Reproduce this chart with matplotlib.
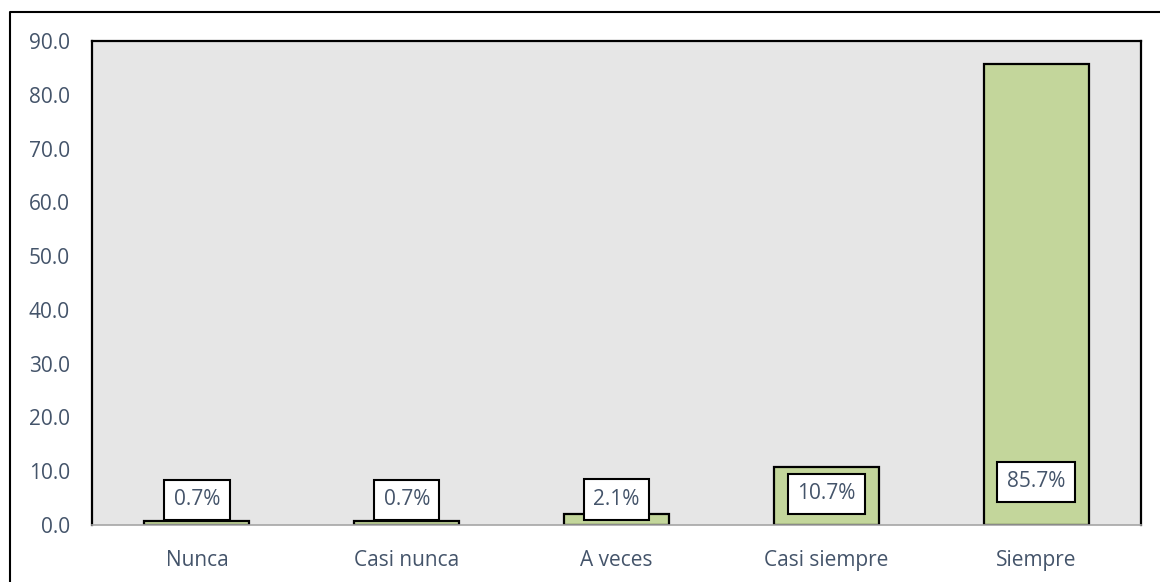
import numpy as np
import matplotlib.pyplot as plt
from matplotlib.lines import Line2D

# Response frequencies (%)
categories = ['Nunca', 'Casi nunca', 'A veces', 'Casi siempre', 'Siempre']
percentages = [0.7, 0.7, 2.1, 10.7, 85.7]
y_ticks = [0, 10, 20, 30, 40, 50, 60, 70, 80, 90]

# where the value boxes sit (data units, near the bar base)
label_y = [4.65, 4.65, 4.75, 5.8, 8.0]

TEXT = '#44546A'
BAR = '#C3D69B'
BG = '#E6E6E6'

plt.rcParams['font.family'] = ['Open Sans', 'DejaVu Sans']

fig = plt.figure(figsize=(11.6, 5.82), dpi=100)
ax = fig.add_axes([92 / 1160, 1 - 525 / 582, (1141 - 92) / 1160, (525 - 41) / 582])
ax.set_facecolor(BG)

x = np.arange(len(categories))
ax.bar(x, percentages, width=0.5, color=BAR, edgecolor='black', linewidth=1.6, zorder=2)

for xi, v, ly in zip(x, percentages, label_y):
    ax.text(xi, ly, f'{v:.1f}%', ha='center', va='center', fontsize=15, color=TEXT,
            bbox=dict(boxstyle='square,pad=0.46', fc='white', ec='black', lw=1.5), zorder=3)

ax.set_xlim(-0.5, len(categories) - 0.5)
ax.set_ylim(0, 90)
ax.set_yticks(y_ticks)
ax.set_yticklabels([f'{t:.1f}' for t in y_ticks])
ax.set_xticks(x)
ax.set_xticklabels(categories)
ax.tick_params(axis='y', length=0, pad=16, labelsize=15, labelcolor=TEXT)
ax.tick_params(axis='x', length=0, pad=18, labelsize=15, labelcolor=TEXT)

for side in ['top', 'left', 'right']:
    ax.spines[side].set_color('black')
    ax.spines[side].set_linewidth(1.6)
ax.spines['bottom'].set_color('#A6A6A6')
ax.spines['bottom'].set_linewidth(1.2)

# chart frame: top and left edges only
fx, fy = 10 / 1160, 1 - 12 / 582
fig.add_artist(Line2D([fx, fx, 1.0], [0.0, fy, fy], color='black', lw=1.5,
                      transform=fig.transFigure))

fig.savefig('out.png', dpi=100)
